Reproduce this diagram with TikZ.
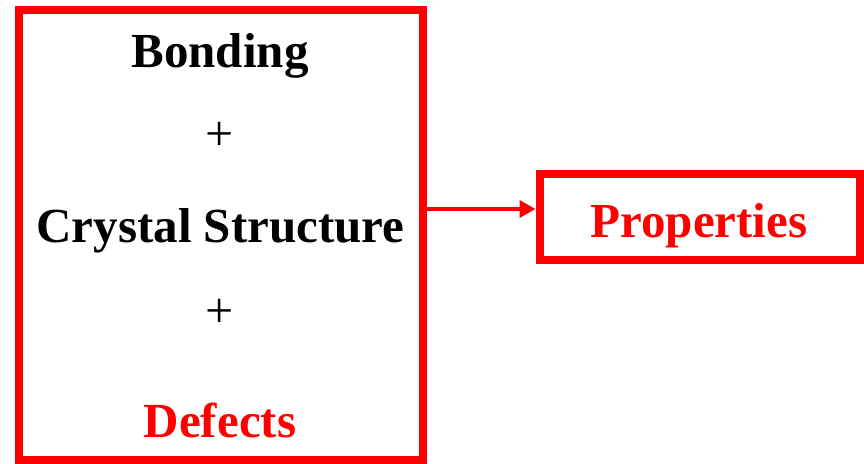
\documentclass[tikz,border=0pt]{standalone}
\usepackage{fontspec}
\setmainfont{Liberation Serif}
\usetikzlibrary{arrows.meta}
\definecolor{pured}{RGB}{255,0,0}
\begin{document}
\begin{tikzpicture}[x=1pt,y=-1pt,
  box/.style={draw=pured,line width=8pt,inner sep=0pt},
  lbl/.style={font=\fontsize{49}{49}\selectfont\bfseries,anchor=base,inner sep=0pt},
  plus/.style={font=\fontsize{50}{50}\selectfont,inner sep=0pt},
  arr/.style={draw=pured,line width=4pt,-{Triangle[length=16pt,width=17pt]}}]
\useasboundingbox (0,0) rectangle (864,463);
\node[box,minimum width=404pt,minimum height=450pt] (left) at (221,235) {};
\node[box,minimum width=320.5pt,minimum height=85.5pt] (right) at (699.75,216.75) {};
\node[lbl] (bonding) at (220,67) {Bonding};
\node[plus] (plus1) at (220,136) {+};
\node[lbl] (crystal) at (220.5,242) {Crystal Structure};
\node[plus] (plus2) at (220,313) {+};
\node[lbl,text=pured] (defects) at (220,437) {Defects};
\node[lbl,text=pured] (props) at (699,237) {Properties};
\coordinate (a) at (423,209);
\draw[arr] (a) -- (right.west |- a);
\end{tikzpicture}
\end{document}
